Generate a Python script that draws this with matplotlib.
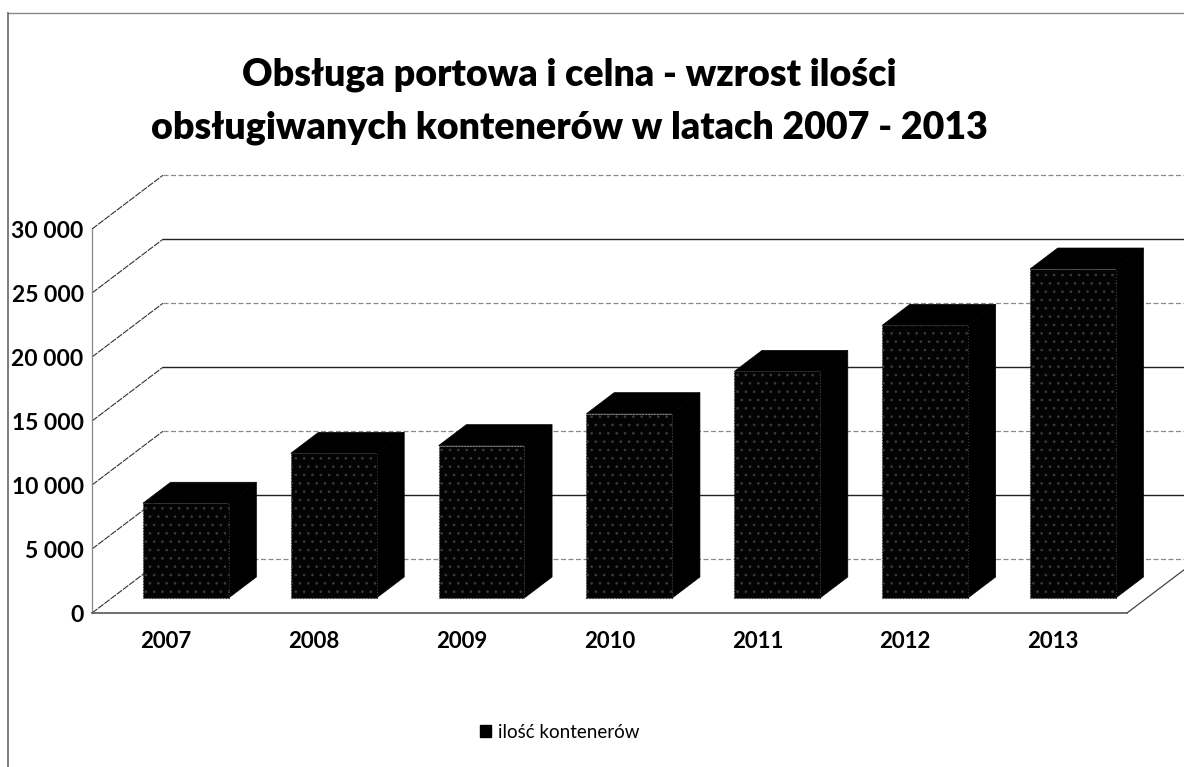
import matplotlib
matplotlib.use('Agg')
import matplotlib.pyplot as plt
from matplotlib.patches import Polygon, Patch
from matplotlib.lines import Line2D
from matplotlib.ticker import FuncFormatter

plt.rcParams['font.family'] = ['Lato', 'DejaVu Sans']
plt.rcParams['hatch.linewidth'] = 0.7

# data
years = ['2007', '2008', '2009', '2010', '2011', '2012', '2013']
containers = [7400, 11300, 11900, 14400, 17700, 21300, 25700]
y_ticks = [0, 5000, 10000, 15000, 20000, 25000, 30000]
title_lines = ['Obsługa portowa i celna - wzrost ilości',
               'obsługiwanych kontenerów w latach 2007 - 2013']
series_name = 'ilość kontenerów'

W, H = 1184, 767
fig = plt.figure(figsize=(W / 100, H / 100), dpi=100)
fig.patch.set_facecolor('white')

# front plane of the 3d box, in pixels
left_px, right_px, bottom_px, top_px = 92, 1127, 613, 229
ax = fig.add_axes([left_px / W, 1 - bottom_px / H,
                   (right_px - left_px) / W, (bottom_px - top_px) / H])
ax.set_xlim(0, len(years))
ax.set_ylim(0, 30000)

# depth of the box in data units (oblique projection)
DX, DY = 0.48, 4200
z0, z1 = 0.28, 0.67   # bar position inside the depth
bar_w = 0.58

# back wall gridlines and side wall diagonals
for k, t in enumerate(y_ticks):
    if k % 2 == 0:
        ax.plot([DX, len(years) + DX], [t + DY, t + DY], color='#8a8a8a',
                lw=0.9, ls=(0, (4, 2)), clip_on=False, zorder=1)
    else:
        ax.plot([DX, len(years) + DX], [t + DY, t + DY], color='#222222',
                lw=1.0, clip_on=False, zorder=1)
    ax.plot([0, DX], [t, t + DY], color='#333333', lw=0.8, ls=(0, (6, 1)),
            clip_on=False, zorder=1)

# right edge of the floor
n = len(years)
ax.plot([n, n + DX], [0, DY], color='#444444', lw=0.9, clip_on=False, zorder=1)

# bars
for i, v in enumerate(containers):
    l = i + 0.5 - bar_w / 2 + z0 * DX
    r = l + bar_w
    b = z0 * DY
    t = v + z0 * DY
    bx = (z1 - z0) * DX
    by = (z1 - z0) * DY
    side = Polygon([(r, b), (r + bx, b + by), (r + bx, t + by), (r, t)],
                   closed=True, facecolor='black', edgecolor='black', lw=0.5,
                   clip_on=False, zorder=3)
    top = Polygon([(l, t), (r, t), (r + bx, t + by), (l + bx, t + by)],
                  closed=True, facecolor='black', edgecolor='black', lw=0.5,
                  clip_on=False, zorder=3)
    front = Polygon([(l, b), (r, b), (r, t), (l, t)], closed=True,
                    facecolor='#030303', edgecolor='#3a3a3a', hatch='..',
                    lw=0.8, ls=':', clip_on=False, zorder=4)
    for p in (side, top, front):
        ax.add_patch(p)

# axes styling
for s in ['top', 'right']:
    ax.spines[s].set_visible(False)
ax.spines['left'].set_color('#888888')
ax.spines['left'].set_linewidth(0.9)
ax.spines['bottom'].set_color('#555555')
ax.spines['bottom'].set_linewidth(1.2)
ax.patch.set_alpha(0)

ax.set_yticks(y_ticks)
ax.yaxis.set_major_formatter(FuncFormatter(lambda v, p: f'{int(v):,}'.replace(',', ' ')))
ax.set_xticks([i + 0.5 for i in range(n)])
ax.set_xticklabels(years)
ax.tick_params(axis='y', length=0, pad=6, labelsize=16.5)
ax.tick_params(axis='x', length=0, pad=13, labelsize=16)
for lab in ax.get_yticklabels() + ax.get_xticklabels():
    lab.set_fontweight('bold')

# title
fig.text(569 / W, 1 - 75 / H, title_lines[0], ha='center', va='center',
         fontsize=27, fontweight='heavy')
fig.text(569 / W, 1 - 128 / H, title_lines[1], ha='center', va='center',
         fontsize=27, fontweight='heavy')

# legend
fig.legend(handles=[Patch(facecolor='black', edgecolor='black')],
           labels=[series_name], loc='center', bbox_to_anchor=(560 / W, 1 - 732 / H),
           frameon=False, fontsize=13.5, handlelength=0.55, handleheight=0.55,
           handletextpad=0.4)

# chart border (top and left edge of the scan)
fig.add_artist(Line2D([8 / W, 1], [1 - 13 / H, 1 - 13 / H], color='#888888', lw=1.0))
fig.add_artist(Line2D([8 / W, 8 / W], [0, 1 - 13 / H], color='#666666', lw=1.2))

fig.savefig('out.png', dpi=100)
